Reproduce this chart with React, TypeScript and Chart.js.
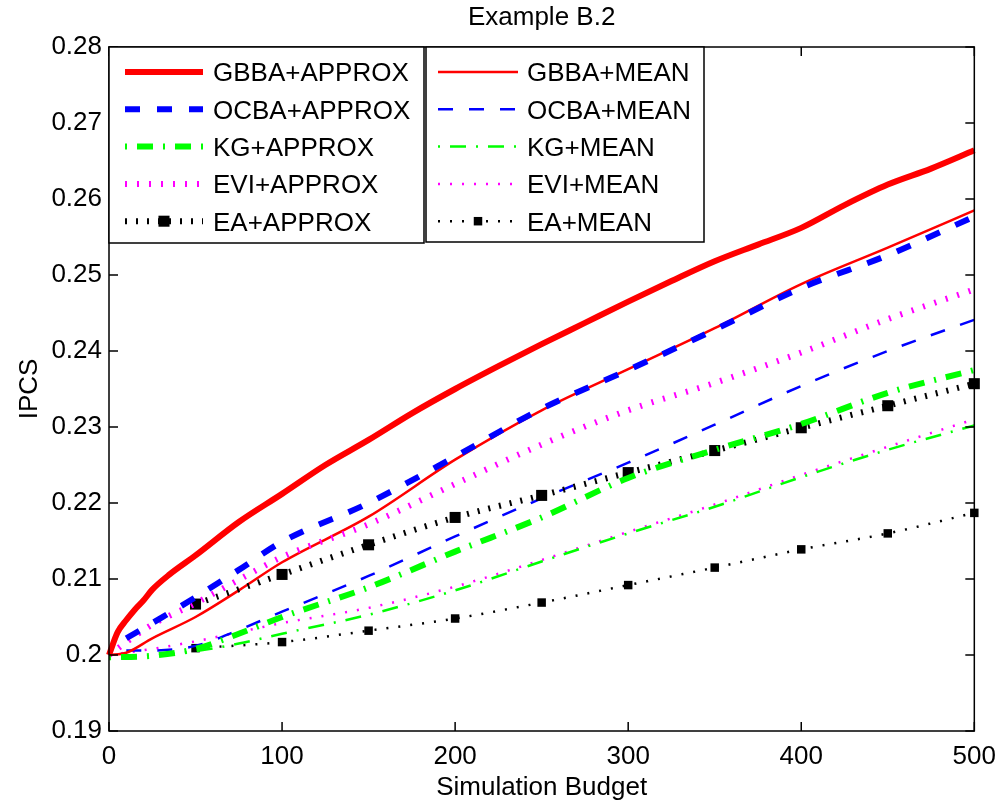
import { useEffect, useRef } from 'react';
import { Chart, registerables } from 'chart.js';

Chart.register(...registerables);

// ---------- data ----------
const xTicks = [0, 100, 200, 300, 400, 500];
const xTickLabels = ['0', '100', '200', '300', '400', '500'];
const yTicks = [0.19, 0.2, 0.21, 0.22, 0.23, 0.24, 0.25, 0.26, 0.27, 0.28];
const yTickLabels = ['0.19', '0.2', '0.21', '0.22', '0.23', '0.24', '0.25', '0.26', '0.27', '0.28'];

const budgetGbbaApprox = [0, 5, 10, 15, 20, 25, 35, 50, 75, 100, 125, 150, 175, 200, 225, 250, 275, 300, 325, 350, 375, 400, 425, 450, 475, 500];
const gbbaApprox = [0.2, 0.203, 0.2046, 0.206, 0.2072, 0.2086, 0.2106, 0.2131, 0.2175, 0.2212, 0.225, 0.2283, 0.2318, 0.235, 0.238, 0.2409, 0.2437, 0.2465, 0.2492, 0.2518, 0.254, 0.2562, 0.2592, 0.2619, 0.264, 0.2664];

const budgetOcbaApprox = [10, 25, 50, 75, 100, 150, 200, 250, 300, 350, 400, 450, 500];
const ocbaApprox = [0.2022, 0.2042, 0.2076, 0.2112, 0.2149, 0.22, 0.2261, 0.2324, 0.2375, 0.2428, 0.2483, 0.2526, 0.2577];

const budgetKgApprox = [0, 25, 50, 75, 100, 150, 200, 250, 300, 350, 400, 450, 500];
const kgApprox = [0.1997, 0.1999, 0.2008, 0.2028, 0.205, 0.2089, 0.2136, 0.2181, 0.2233, 0.227, 0.2304, 0.2345, 0.2375];

const budgetEviApprox = [0, 10, 25, 50, 75, 100, 150, 200, 250, 300, 350, 400, 450, 500];
const eviApprox = [0.2, 0.2017, 0.204, 0.2068, 0.2099, 0.2129, 0.2172, 0.2225, 0.2277, 0.2322, 0.2358, 0.2398, 0.2442, 0.2481];

const budgetEaApprox = [50, 100, 150, 200, 250, 300, 350, 400, 450, 500];
const eaApprox = [0.2067, 0.2106, 0.2145, 0.2181, 0.221, 0.224, 0.2269, 0.2299, 0.2328, 0.2357];

const budgetGbbaMean = [0, 10, 25, 50, 75, 100, 150, 200, 250, 300, 350, 400, 450, 500];
const gbbaMean = [0.2, 0.2003, 0.2022, 0.205, 0.2085, 0.2122, 0.2182, 0.2257, 0.2322, 0.2376, 0.243, 0.2488, 0.2536, 0.2585];

const budgetOcbaMean = [10, 25, 50, 75, 100, 150, 200, 250, 300, 350, 400, 450, 500];
const ocbaMean = [0.2006, 0.2006, 0.2012, 0.2033, 0.2057, 0.2104, 0.2156, 0.2206, 0.2253, 0.2303, 0.2354, 0.24, 0.2441];

const budgetKgMean = [0, 25, 50, 75, 100, 150, 200, 250, 300, 350, 400, 450, 500];
const kgMean = [0.1997, 0.1999, 0.2005, 0.2015, 0.2028, 0.2053, 0.2085, 0.2123, 0.216, 0.2195, 0.2234, 0.227, 0.2302];

const budgetEviMean = [0, 25, 50, 75, 100, 150, 200, 250, 300, 350, 400, 450, 500];
const eviMean = [0.2, 0.2008, 0.2018, 0.203, 0.2042, 0.2062, 0.209, 0.2125, 0.2162, 0.2198, 0.2237, 0.2274, 0.231];

const budgetEaMean = [50, 100, 150, 200, 250, 300, 350, 400, 450, 500];
const eaMean = [0.2009, 0.2017, 0.2032, 0.2048, 0.2069, 0.2092, 0.2115, 0.2139, 0.216, 0.2187];

const FONT = "'Liberation Sans', Arial, Helvetica, sans-serif";
const RED = '#ff0000';
const BLUE = '#0000ff';
const GREEN = '#00ff00';
const MAGENTA = '#ff00ff';
const BLACK = '#000000';

type Series = {
  label: string;
  xs: number[];
  ys: number[];
  color: string;
  width: number;
  dash: number[];
  marker: number;
};

const series: Series[] = [
  { label: 'GBBA+APPROX', xs: budgetGbbaApprox, ys: gbbaApprox, color: RED, width: 6, dash: [], marker: 0 },
  { label: 'OCBA+APPROX', xs: budgetOcbaApprox, ys: ocbaApprox, color: BLUE, width: 6, dash: [15, 17], marker: 0 },
  { label: 'KG+APPROX', xs: budgetKgApprox, ys: kgApprox, color: GREEN, width: 6, dash: [2, 10, 16, 10], marker: 0 },
  { label: 'EVI+APPROX', xs: budgetEviApprox, ys: eviApprox, color: MAGENTA, width: 6, dash: [2, 10], marker: 0 },
  { label: 'EA+APPROX', xs: budgetEaApprox, ys: eaApprox, color: BLACK, width: 6, dash: [2, 9], marker: 7.8 },
  { label: 'GBBA+MEAN', xs: budgetGbbaMean, ys: gbbaMean, color: RED, width: 2.5, dash: [], marker: 0 },
  { label: 'OCBA+MEAN', xs: budgetOcbaMean, ys: ocbaMean, color: BLUE, width: 2.5, dash: [15, 16], marker: 0 },
  { label: 'KG+MEAN', xs: budgetKgMean, ys: kgMean, color: GREEN, width: 2.5, dash: [2, 10, 16, 10], marker: 0 },
  { label: 'EVI+MEAN', xs: budgetEviMean, ys: eviMean, color: MAGENTA, width: 2.5, dash: [2, 10], marker: 0 },
  { label: 'EA+MEAN', xs: budgetEaMean, ys: eaMean, color: BLACK, width: 2.5, dash: [2, 10], marker: 6 },
];

const framePlugin = {
  id: 'matlabFrame',
  afterDraw(chart: any) {
    const ctx: CanvasRenderingContext2D = chart.ctx;
    const { left, right, top, bottom } = chart.chartArea;
    const xs = chart.scales.x;
    const ys = chart.scales.y;
    ctx.save();
    // title
    ctx.fillStyle = '#000';
    ctx.font = `26px ${FONT}`;
    ctx.textAlign = 'center';
    ctx.textBaseline = 'alphabetic';
    ctx.fillText('Example B.2', (left + right) / 2, 25);

    // box + inward ticks
    ctx.strokeStyle = '#000';
    ctx.lineWidth = 1.5;
    ctx.setLineDash([]);
    ctx.strokeRect(left, top, right - left, bottom - top);
    const tl = 9;
    ctx.beginPath();
    xTicks.forEach((v) => {
      const px = xs.getPixelForValue(v);
      ctx.moveTo(px, bottom);
      ctx.lineTo(px, bottom - tl);
      ctx.moveTo(px, top);
      ctx.lineTo(px, top + tl);
    });
    yTicks.forEach((v) => {
      const py = ys.getPixelForValue(v);
      ctx.moveTo(left, py);
      ctx.lineTo(left + tl, py);
      ctx.moveTo(right, py);
      ctx.lineTo(right - tl, py);
    });
    ctx.stroke();

    // legends
    const boxes = [
      { x0: left, x1: left + 315, y1: top + 196, l0: left + 16, l1: left + 94, tx: left + 104, items: [0, 1, 2, 3, 4] },
      { x0: left + 317, x1: left + 595, y1: top + 195, l0: left + 329, l1: left + 409, tx: left + 418, items: [5, 6, 7, 8, 9] },
    ];
    boxes.forEach((b) => {
      ctx.fillStyle = '#fff';
      ctx.fillRect(b.x0, top, b.x1 - b.x0, b.y1 - top);
      ctx.strokeStyle = '#000';
      ctx.lineWidth = 1.5;
      ctx.setLineDash([]);
      ctx.strokeRect(b.x0, top, b.x1 - b.x0, b.y1 - top);
      b.items.forEach((idx, row) => {
        const s = series[idx];
        const ry = top + 25 + row * 37.3;
        ctx.strokeStyle = s.color;
        ctx.lineWidth = s.width;
        ctx.lineCap = 'butt';
        ctx.setLineDash(s.dash);
        ctx.beginPath();
        ctx.moveTo(b.l0, ry);
        ctx.lineTo(b.l1, ry);
        ctx.stroke();
        ctx.setLineDash([]);
        if (s.marker > 0) {
          const side = s.marker * Math.SQRT2;
          ctx.fillStyle = s.color;
          ctx.fillRect((b.l0 + b.l1) / 2 - side / 2, ry - side / 2, side, side);
        }
        ctx.fillStyle = '#000';
        ctx.font = `26px ${FONT}`;
        ctx.textAlign = 'left';
        ctx.textBaseline = 'alphabetic';
        ctx.fillText(s.label, b.tx, ry + 9.3);
      });
    });
    ctx.restore();
  },
};

export default function App() {
  const ref = useRef<HTMLCanvasElement | null>(null);
  useEffect(() => {
    if (!ref.current) return;
    Chart.defaults.font.family = FONT;
    Chart.defaults.color = '#000';
    const datasets = series.map((s) => ({
      label: s.label,
      data: s.xs.map((x, i) => ({ x, y: s.ys[i] })),
      borderColor: s.color,
      backgroundColor: s.color,
      borderWidth: s.width,
      borderDash: s.dash,
      borderCapStyle: 'butt' as const,
      pointRadius: s.marker,
      pointStyle: 'rect' as const,
      pointBackgroundColor: s.color,
      pointBorderWidth: 0,
      pointHoverRadius: s.marker,
      cubicInterpolationMode: 'monotone' as const,
      fill: false,
      clip: false as any,
    }));
    const chart = new Chart(ref.current, {
      type: 'line',
      data: { datasets },
      options: {
        animation: false,
        responsive: false,
        devicePixelRatio: 1,
        events: [],
        layout: { padding: { top: 47, right: 27, left: 0, bottom: 0 } },
        plugins: { legend: { display: false }, tooltip: { enabled: false }, title: { display: false } },
        scales: {
          x: {
            type: 'linear',
            min: 0,
            max: 500,
            afterBuildTicks: (s: any) => { s.ticks = xTicks.map((v) => ({ value: v })); },
            afterFit: (s: any) => { s.height = 74; },
            ticks: {
              callback: (_v: any, i: number) => xTickLabels[i],
              font: { size: 26, family: FONT },
              color: '#000',
              padding: 10,
              maxRotation: 0,
              autoSkip: false,
            },
            grid: { display: false, drawTicks: false },
            border: { display: false },
            title: { display: true, text: 'Simulation Budget', font: { size: 26, family: FONT }, color: '#000', padding: { top: 0, bottom: 2 } },
          },
          y: {
            type: 'linear',
            min: 0.19,
            max: 0.28,
            afterBuildTicks: (s: any) => { s.ticks = yTicks.map((v) => ({ value: v })); },
            afterFit: (s: any) => { s.width = 109; },
            ticks: {
              callback: (_v: any, i: number) => yTickLabels[i],
              font: { size: 26, family: FONT },
              color: '#000',
              padding: 7,
              autoSkip: false,
            },
            grid: { display: false, drawTicks: false },
            border: { display: false },
            title: { display: true, text: 'IPCS', font: { size: 26, family: FONT }, color: '#000', padding: { top: 14, bottom: 0 } },
          },
        },
      },
      plugins: [framePlugin],
    });
    return () => chart.destroy();
  }, []);
  return (
    <div style={{ position: 'absolute', left: 0, top: 0, width: 1006, height: 805, background: '#fff' }}>
      <canvas ref={ref} width={1006} height={805} style={{ display: 'block' }} />
    </div>
  );
}
